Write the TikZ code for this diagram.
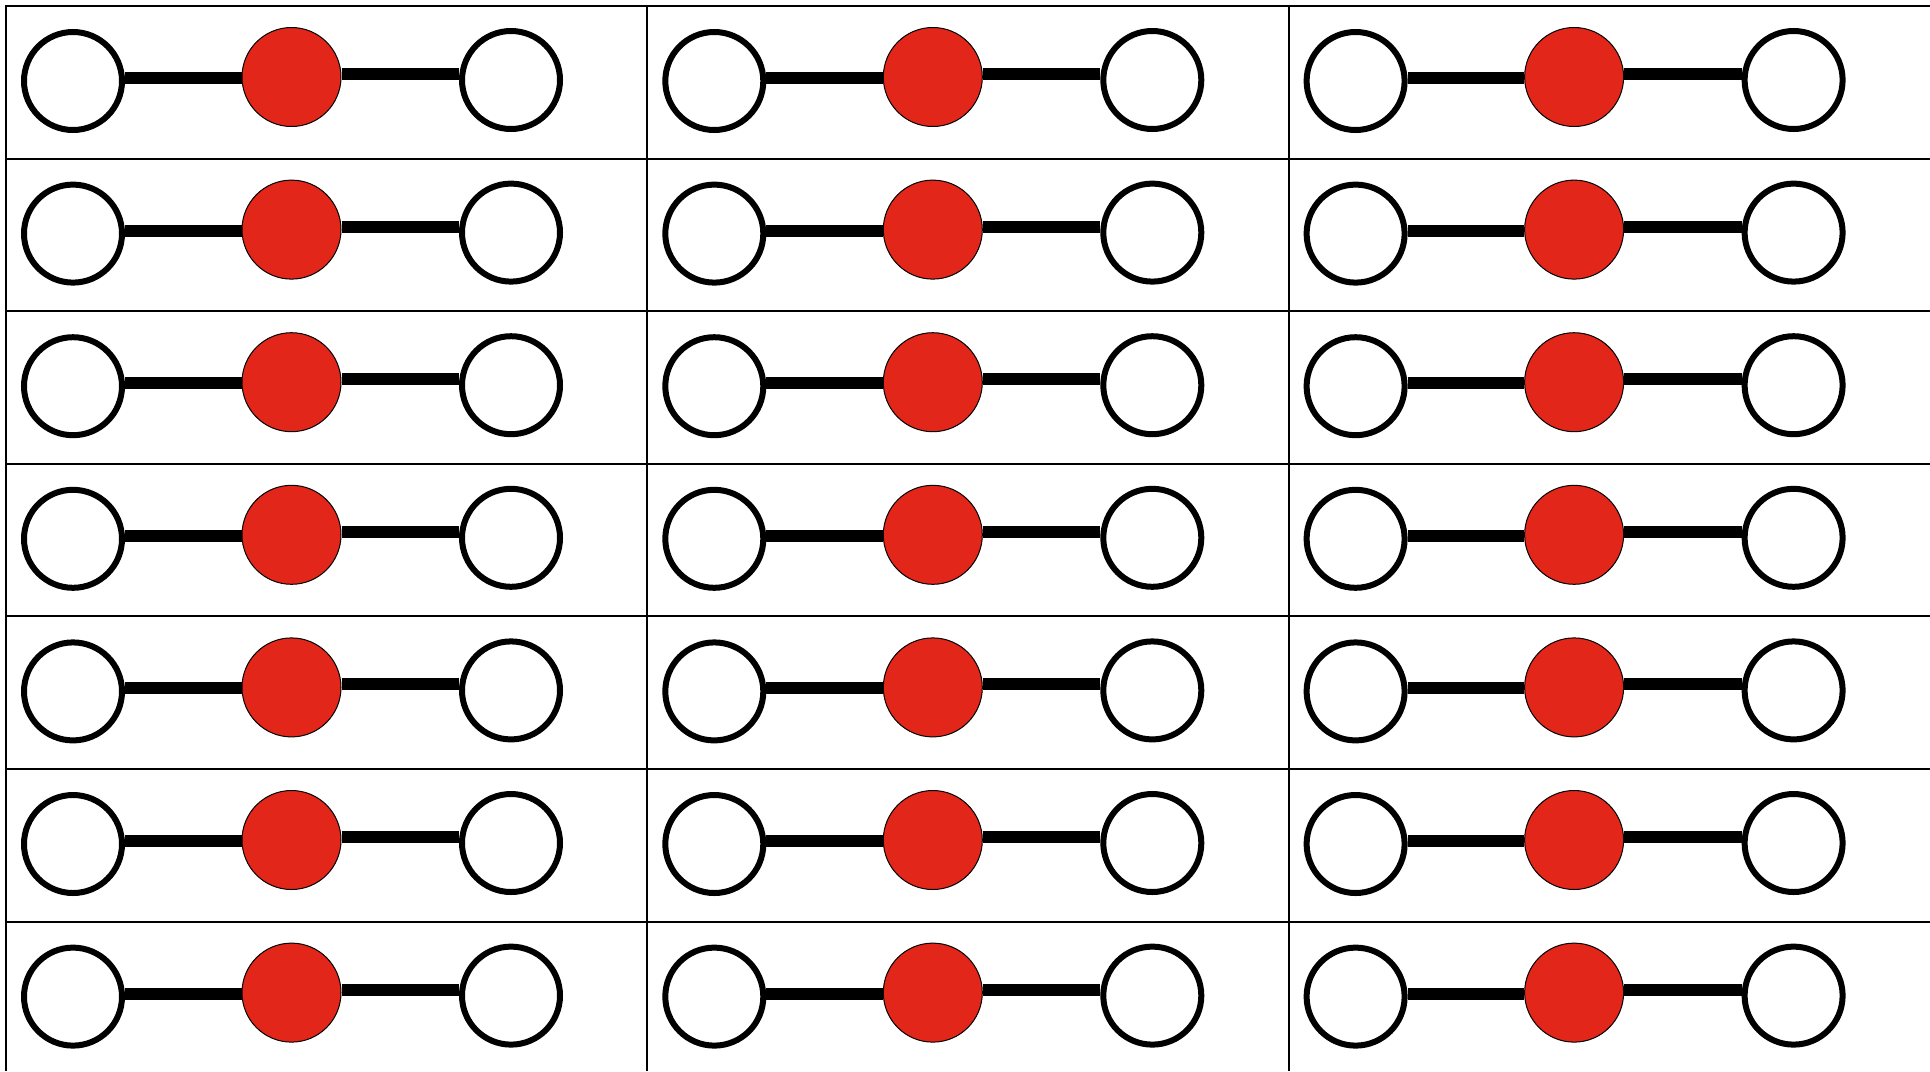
\documentclass[tikz,border=0pt]{standalone}
\definecolor{atomred}{RGB}{227,38,26}
\begin{document}
\begin{tikzpicture}[x=0.5pt,y=-0.5pt,
  hatom/.style={circle,draw=black,line width=3pt,fill=white,minimum size=49pt,inner sep=0pt},
  oatom/.style={circle,draw=black,line width=0.5pt,fill=atomred,minimum size=49.5pt,inner sep=0pt},
  bond/.style={line width=6pt,black},
  gridline/.style={line width=1pt,black}]
\useasboundingbox (0,0) rectangle (1930,1071);
\clip (0,0) rectangle (1930,1071);
\fill[white] (0,0) rectangle (1930,1071);
\foreach \k in {0,...,6} \draw[gridline] (5,{6+152.6*\k}) -- (1930,{6+152.6*\k});
\foreach \c in {0,...,2} \draw[gridline] ({6+641.3*\c},5) -- ({6+641.3*\c},1071);
\foreach \r in {0,...,6}{
 \foreach \c in {0,...,2}{
  \pgfmathsetmacro\ox{641.3*\c}
  \pgfmathsetmacro\oy{152.6*\r}
  \node[hatom] (L-\r-\c) at (73+\ox,81+\oy) {};
  \node[oatom] (O-\r-\c) at (291.5+\ox,77+\oy) {};
  \node[hatom] (R-\r-\c) at (511+\ox,80+\oy) {};
  \draw[bond] ([yshift=1.5pt]L-\r-\c.east) -- ([yshift=-0.5pt]O-\r-\c.west);
  \draw[bond] ([yshift=1.5pt]O-\r-\c.east) -- ([yshift=3pt]R-\r-\c.west);
 }
}
\end{tikzpicture}
\end{document}
